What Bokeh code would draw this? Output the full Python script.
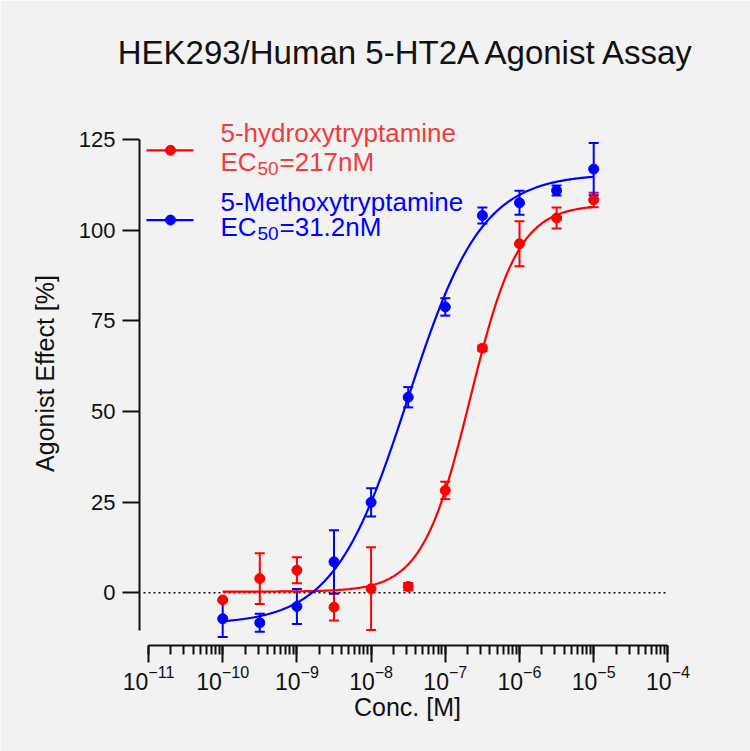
from bokeh.plotting import figure
from bokeh.models import ColumnDataSource, Whisker, TeeHead, FixedTicker, LogTicker, Range1d
from bokeh.embed import file_html
from bokeh.resources import INLINE
from bokeh.core.properties import value
import numpy as np

# concentrations (log10 M)
log_conc = [-10, -9.5, -9, -8.5, -8, -7.5, -7, -6.5, -6, -5.5, -5]

# 5-hydroxytryptamine, mean and SEM (%)
ht_mean = [-2.0, 3.9, 6.2, -4.0, 1.1, 1.7, 28.2, 67.4, 96.2, 103.3, 108.3]
ht_sem = [0.0, 7.0, 3.6, 3.7, 11.4, 1.0, 2.4, 0.8, 6.2, 2.9, 2.0]

# 5-Methoxytryptamine, mean and SEM (%)
meot_mean = [-7.2, -8.3, -3.8, 8.5, 24.9, 53.9, 78.8, 104.0, 107.5, 110.9, 116.8]
meot_sem = [5.0, 2.5, 4.8, 8.7, 3.9, 2.8, 2.4, 2.2, 3.3, 1.4, 7.2]

# four-parameter fits: bottom, top, logEC50, hill slope
ht_fit = [0.3, 107.0, np.log10(217e-9), 1.34]
meot_fit = [-8.7, 115.5, np.log10(31.2e-9), 0.87]

y_ticks = [0, 25, 50, 75, 100, 125]

FONT = "Liberation Sans"
RED = "#ff0000"
BLUE = "#0000ff"


def fit_curve(params, lx):
    bottom, top, logec, hill = params
    return bottom + (top - bottom) / (1 + 10 ** ((logec - lx) * hill))


# reference pixel -> data, used only to place the legend
def sx(px):
    return 10 ** (-11 + (px - 148) / 74.2)


def sy(py):
    return (592 - py) / 3.64


p = figure(width=750, height=751, x_axis_type="log",
           x_range=Range1d(sx(139), sx(675)), y_range=Range1d(sy(645), sy(99)),
           output_backend="svg", toolbar_location=None,
           min_border_left=139, min_border_right=75, min_border_top=99, min_border_bottom=106,
           background_fill_color="#f2f2f2", border_fill_color="#f2f2f2",
           outline_line_color=None)
p.grid.visible = False

p.title.text = "HEK293/Human 5-HT2A Agonist Assay"
p.title.align = "center"
p.title.text_font = FONT
p.title.text_font_size = "33px"
p.title.text_font_style = "normal"
p.title.text_color = "#111111"
p.title.standoff = 62

for ax in p.axis:
    ax.axis_line_width = 2
    ax.axis_line_color = "#111111"
    ax.major_tick_line_width = 2
    ax.major_tick_line_color = "#111111"
    ax.minor_tick_line_width = 2
    ax.minor_tick_line_color = "#111111"
    ax.major_tick_in = 0
    ax.major_tick_out = 17
    ax.minor_tick_in = 0
    ax.minor_tick_out = 9
    ax.major_label_text_font = FONT
    ax.major_label_text_font_size = "22px"
    ax.major_label_text_color = "#111111"
    ax.axis_label_text_font = FONT
    ax.axis_label_text_font_size = "25px"
    ax.axis_label_text_font_style = "normal"
    ax.axis_label_text_color = "#111111"

p.yaxis.ticker = FixedTicker(ticks=y_ticks, minor_ticks=[])
p.yaxis.bounds = (-10.4, 125)
p.yaxis.major_label_standoff = 7
p.yaxis.axis_label = "Agonist Effect [%]"
p.yaxis.axis_label_standoff = 17

p.xaxis.ticker = LogTicker(desired_num_ticks=8, num_minor_ticks=10, mantissas=[1])
p.xaxis.bounds = (1e-11, 1e-4)
p.xaxis.major_label_text_font_size = "23px"
p.xaxis.major_label_standoff = 2
p.xaxis.axis_label = "Conc. [M]"
p.xaxis.axis_label_standoff = 0

# zero line
p.line([sx(143), 1e-4], [0, 0], line_color="#111111", line_width=1.5, line_dash="2 3")

conc = [10 ** v for v in log_conc]
lx = np.linspace(log_conc[0], log_conc[-1], 300)

series = [
    (ht_mean, ht_sem, ht_fit, RED),
    (meot_mean, meot_sem, meot_fit, BLUE),
]
for mean, sem, fit, color in series:
    p.line(10 ** lx, fit_curve(fit, lx), line_color=color, line_width=2.2)
    src = ColumnDataSource(dict(
        x=conc, y=mean,
        upper=[m + s for m, s in zip(mean, sem)],
        lower=[m - s for m, s in zip(mean, sem)],
    ))
    p.add_layout(Whisker(source=src, base="x", upper="upper", lower="lower",
                         line_color=color, line_width=2,
                         upper_head=TeeHead(size=10, line_color=color, line_width=2),
                         lower_head=TeeHead(size=10, line_color=color, line_width=2)))
    p.scatter("x", "y", source=src, size=10, color=color)

# legend
legend = [
    ("5-hydroxytryptamine", "=217nM", "#f03c3c", RED, 148, 131, 160),
    ("5-Methoxytryptamine", "=31.2nM", BLUE, BLUE, 218, 200, 225),
]
for name, ec, tcolor, color, ly, y1, y2 in legend:
    p.line([sx(146), sx(193)], [sy(ly), sy(ly)], line_color=color, line_width=2.2)
    p.scatter([sx(170)], [sy(ly)], size=10, color=color)
    p.text([sx(220)], [sy(y1)], text=[name], text_font=value(FONT), text_font_size="26px",
           text_color=tcolor, text_baseline="alphabetic")
    p.text([sx(220)], [sy(y2)], text=["EC"], text_font=value(FONT), text_font_size="26px",
           text_color=tcolor, text_baseline="alphabetic")
    p.text([sx(257)], [sy(y2 + 6)], text=["50"], text_font=value(FONT), text_font_size="19px",
           text_color=tcolor, text_baseline="alphabetic")
    p.text([sx(279)], [sy(y2)], text=[ec], text_font=value(FONT), text_font_size="26px",
           text_color=tcolor, text_baseline="alphabetic")

open("out.html", "w").write(file_html(p, INLINE))
